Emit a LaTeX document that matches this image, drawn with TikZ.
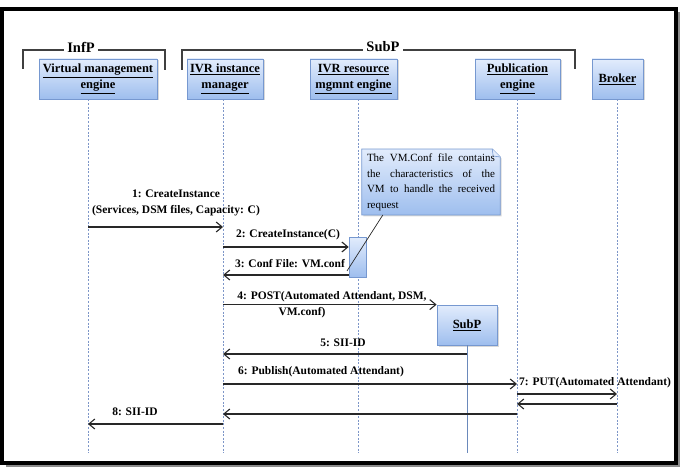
\documentclass[tikz,border=0pt]{standalone}
\usepackage{fontspec}
\setmainfont{Liberation Serif}
\usetikzlibrary{arrows.meta,shadows,calc,backgrounds}
\definecolor{boxtop}{RGB}{226,236,252}
\definecolor{boxbot}{RGB}{158,190,238}
\definecolor{boxline}{RGB}{118,152,208}
\definecolor{lifec}{RGB}{125,150,200}
\definecolor{msgc}{RGB}{40,40,40}
\newcommand{\spreadline}[1]{\leavevmode\makebox[128pt][l]{#1}}
\begin{document}
\begin{tikzpicture}[x=1pt,y=-1pt,
  actor/.style={draw=boxline, line width=0.8pt, top color=boxtop, bottom color=boxbot,
    font=\fontsize{12.5}{16}\selectfont\bfseries, align=center, minimum height=40pt,
    inner sep=1pt, drop shadow={shadow xshift=1.5pt, shadow yshift=-1.5pt, opacity=0.3}},
  actbox/.style={draw=boxline, line width=0.6pt, top color=boxtop, bottom color=boxbot,
    inner sep=0pt},
  life/.style={draw=lifec, line width=0.8pt, dash pattern=on 2pt off 1.6pt},
  msg/.style={draw=msgc, line width=1.2pt, -{Straight Barb[length=6pt,width=10pt,line width=1.1pt]}},
  lbl/.style={font=\fontsize{11.5}{16}\selectfont\bfseries, inner sep=0pt, align=center},
  bracket/.style={draw=black!75, line width=1.1pt},
  ttl/.style={font=\fontsize{14.5}{16}\selectfont\bfseries, fill=white, inner sep=3pt},
  notetxt/.style={font=\fontsize{11}{15.5}\selectfont, text width=128pt, inner sep=0pt, align=left}
]
\useasboundingbox (0,0) rectangle (684,468);
% outer frame
\draw[black!45, line width=2pt] (6,466) -- (679,466) -- (679,12);
\draw[black, line width=3.8pt] (2,9) rectangle (676,463);

% group brackets
\draw[bracket] (23,69) -- (23,50) -- (165,50) -- (165,70);
\node[ttl] (infp) at (81,47) {InfP};
\draw[bracket] (182,70) -- (182,50) -- (575,50) -- (575,69);
\node[ttl] (subpt) at (383,47) {SubP};

% actors
\node[actor, minimum width=118pt] (vme) at (98,79) {\underline{Virtual management}\\\underline{engine}};
\node[actor, minimum width=76pt] (iim) at (225,79) {\underline{IVR instance}\\\underline{manager}};
\node[actor, minimum width=87pt] (irm) at (353.5,79) {\underline{IVR resource}\\\underline{mgmnt engine}};
\node[actor, minimum width=85pt] (pub) at (517.5,79) {\underline{Publication}\\\underline{engine}};
\node[actor, minimum width=51pt] (brk) at (617.5,79) {\underline{Broker}};

% lifeline positions
\coordinate (L1) at (88,99);
\coordinate (L2) at (223,99);
\coordinate (L3) at (358,99);
\coordinate (L4) at (517,99);
\coordinate (L5) at (617,99);
\coordinate (Lb) at (0,453);

\draw[life] (L1 |- vme.south) -- (L1 |- Lb);
\draw[life] (L2 |- iim.south) -- (L2 |- Lb);
\draw[life] (L3 |- irm.south) -- (L3 |- Lb);
\draw[life] (L4 |- pub.south) -- (L4 |- Lb);
\draw[life] (L5 |- brk.south) -- (L5 |- Lb);

% activation box
\node[actbox, minimum width=17pt, minimum height=40pt] (act) at (357.5,257) {};

% note
\node[notetxt] (note) at (431,182.5) {%
\spreadline{The\hfill VM.Conf\hfill file\hfill contains}\\
\spreadline{the\hfill characteristics\hfill of\hfill the}\\
\spreadline{VM\hfill to\hfill handle\hfill the\hfill received}\\
request};
\begin{scope}[on background layer]
\path[draw=boxline, line width=0.8pt, top color=boxtop, bottom color=boxbot,
      drop shadow={shadow xshift=1.5pt, shadow yshift=-1.5pt, opacity=0.3}]
  ($(note.north west)+(-5,-5)$) -- ($(note.north east)+(-3,-5)$) -- ($(note.north east)+(5,3)$)
  -- ($(note.south east)+(5,4)$) -- ($(note.south west)+(-5,4)$) -- cycle;
\draw[boxline, line width=0.6pt, fill=boxtop]
  ($(note.north east)+(-3,-5)$) -- ($(note.north east)+(-2,2)$) -- ($(note.north east)+(5,3)$);
\end{scope}
\coordinate (nc) at (347,271);
\draw[msgc, line width=0.7pt] ($(note.south west)+(16,4)$) -- (nc);

% SubP box
\node[actor, minimum width=60pt] (subp) at (467,325) {\underline{SubP}};
\draw[draw=boxline!90!black, line width=1pt] (subp.south) -- (subp.south |- Lb);

% messages
\draw[msg] (L1 |- 0,227) -- (L2 |- 0,227);
\node[lbl] (m1) at (176,203) {1: CreateInstance\\(Services, DSM files, Capacity: C)};
\draw[msg] (L2 |- 0,247) -- (act.west |- 0,247);
\node[lbl] (m2) at (288,235) {2: CreateInstance(C)};
\draw[msg] (act.west |- 0,275) -- (L2 |- 0,275);
\node[lbl] (m3) at (290,264) {3: Conf File: VM.conf};
\draw[msg] (L2 |- subp.north west) -- (subp.north west);
\node[lbl] (m4a) at (332,297) {4: POST(Automated Attendant, DSM,};
\node[lbl] (m4b) at (302,313) {VM.conf)};
\draw[msg] (subp.south |- 0,354) -- (L2 |- 0,354);
\node[lbl] (m5) at (343,343) {5: SII-ID};
\draw[msg] (L2 |- 0,384) -- (L4 |- 0,384);
\node[lbl] (m6) at (321,372) {6: Publish(Automated Attendant)};
\draw[msg] (L4 |- 0,394) -- (L5 |- 0,394);
\node[lbl, anchor=west] (m7) at (519,383) {7: PUT(Automated Attendant)};
\draw[msg] (L5 |- 0,404) -- (L4 |- 0,404);
\draw[msg] (L4 |- 0,414) -- (L2 |- 0,414);
\draw[msg] (L2 |- 0,424) -- (L1 |- 0,424);
\node[lbl] (m8) at (135,412) {8: SII-ID};
\end{tikzpicture}
\end{document}
